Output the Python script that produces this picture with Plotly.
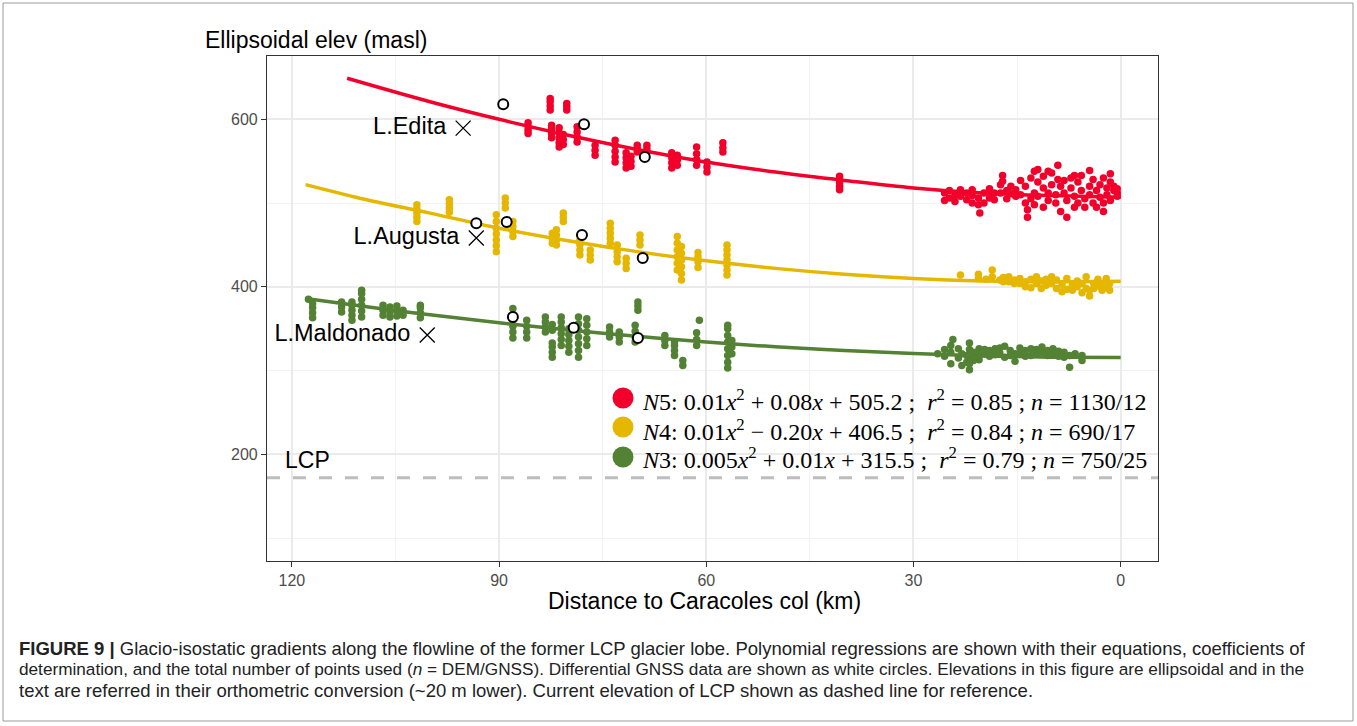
import plotly.graph_objects as go

# ---------------- data ----------------
# DEM points, grouped as vertical streaks: distance (km) -> list of elevations (masl)
N5_STREAKS = {
    85.8: [583, 587, 591, 596], 82.6: [611, 616, 621, 625], 82.4: [578, 583, 588, 593],
    81.3: [567, 572, 578, 584, 590], 80.7: [570, 576, 582], 80.2: [611, 615, 619],
    78.7: [573, 579, 585, 591], 76.1: [557, 563, 569], 73.2: [549, 555, 562, 569, 575],
    71.6: [542, 548, 554, 560], 70.9: [544, 550, 556], 70.0: [561, 565, 569],
    68.6: [561, 565, 569], 65.0: [542, 548, 554, 560], 64.2: [545, 551, 557],
    61.4: [545, 552, 559, 567], 59.9: [537, 543, 549], 57.6: [561, 566, 572],
    40.7: [516, 520, 524, 528, 532],
    25.5: [503, 512], 24.8: [506, 515], 24.0: [502, 510], 23.2: [508, 516],
    22.3: [504, 512], 21.5: [500, 509, 516], 20.6: [498, 506], 20.4: [488],
    19.8: [500, 512], 19.0: [506, 517], 18.3: [504, 512], 17.4: [512, 522],
    17.1: [526, 533], 16.5: [505, 515], 15.9: [511, 520], 15.2: [508, 516],
    14.5: [510, 527], 13.8: [500, 520], 13.5: [483, 492], 13.0: [505, 530],
    12.5: [498, 512, 538], 12.0: [508, 525, 540], 11.2: [495, 518, 532],
    10.5: [503, 512, 538], 10.0: [522, 536], 9.4: [500, 510], 9.1: [528, 545],
    8.7: [490, 520], 8.2: [512, 527], 7.8: [483, 503], 7.2: [518, 530],
    6.7: [495, 508, 533], 6.2: [500, 525], 5.7: [515, 533], 5.2: [495, 505],
    4.5: [510, 520, 539], 4.0: [500, 528], 3.5: [495, 515], 3.0: [507, 522],
    2.5: [490, 500, 530], 2.0: [510, 518], 1.5: [503, 525, 535], 1.0: [515, 520],
    0.5: [508, 512, 517],
}
N4_STREAKS = {
    101.9: [478, 483, 488, 493, 498], 97.2: [489, 494, 499, 504],
    90.4: [442, 449, 456, 463, 470, 478, 486], 89.1: [494, 500, 506],
    88.0: [460, 466, 472, 478], 82.3: [452, 458, 464], 81.7: [450, 456, 462, 468],
    80.7: [478, 483, 488], 78.3: [438, 444, 450, 456], 76.8: [432, 438, 444],
    73.9: [452, 458, 464, 470, 476], 72.9: [430, 436, 442, 450], 71.6: [422, 428, 434],
    69.6: [450, 456, 462], 64.2: [420, 428, 436, 444, 452, 460],
    63.6: [408, 416, 424, 432, 440, 448], 61.2: [423, 430, 436, 441],
    57.0: [414, 420, 426, 432, 438, 444, 450],
    23.2: [414], 20.6: [410, 415], 19.5: [409], 18.6: [412, 420], 17.5: [408],
    17.0: [406, 411], 16.2: [406, 412], 15.4: [404, 408], 14.6: [404, 410],
    13.8: [400, 406], 13.0: [399, 409], 12.2: [404, 412], 11.5: [398, 407],
    10.8: [402, 409], 10.0: [404, 412], 9.3: [398, 408], 8.5: [394, 403],
    7.8: [397, 410], 7.0: [396, 402], 6.3: [400, 407], 5.6: [393, 404],
    5.0: [398, 412], 4.5: [389, 396], 3.9: [398, 404], 3.3: [401, 409],
    2.7: [396, 404], 2.1: [399, 410], 1.6: [396, 404],
}
N3_STREAKS = {
    117.6: [385], 117.0: [363, 369, 375, 380], 112.8: [370, 376, 382],
    111.3: [360, 366, 372, 378, 382], 109.9: [364, 371, 378, 385, 392, 396],
    106.8: [366, 372, 378], 105.8: [364, 370, 376], 104.8: [365, 371, 377],
    103.9: [366, 372], 101.4: [363, 369, 375, 378],
    88.0: [339, 346, 353, 360, 367, 374], 86.0: [339, 346, 353, 360],
    83.3: [346, 352, 358, 364], 82.3: [316, 322, 328, 333, 348, 355],
    81.0: [330, 337, 344, 351, 358, 364], 79.9: [322, 329, 336, 343, 350],
    78.5: [316, 324, 332, 340, 348, 356, 364], 77.3: [330, 338, 346, 354, 362],
    74.0: [340, 346, 352], 72.6: [334, 340, 346], 70.3: [334, 340, 347, 354],
    69.9: [372, 377, 382], 66.0: [330, 336, 342], 64.6: [318, 324, 330, 334],
    63.4: [306, 312], 61.4: [330, 337, 345], 61.0: [360],
    56.9: [303, 310, 318, 326, 334, 342, 350, 354], 56.3: [320, 328, 336],
    26.5: [320], 25.5: [317, 325], 24.6: [308, 322, 330], 24.3: [337],
    23.5: [315, 326], 23.0: [306, 320], 22.3: [310, 318],
    21.9: [301, 308, 316, 325, 333], 21.3: [312, 322], 20.5: [313, 318, 326],
    19.7: [320, 325], 19.0: [317, 324], 18.2: [319, 326], 17.5: [321, 327],
    16.8: [316, 329], 16.0: [318, 324], 15.3: [311, 320], 14.6: [320, 327],
    13.8: [317, 324], 13.0: [318, 326], 12.2: [320, 325], 11.4: [322, 328],
    10.6: [318, 324], 9.8: [321, 326], 9.0: [317, 323], 8.2: [316, 322],
    7.4: [304, 318], 6.6: [320], 5.6: [312, 318],
}

# Differential GNSS points (white circles)
GNSS_KM = [89.4, 77.7, 68.9, 93.3, 88.9, 78.0, 69.2, 88.0, 79.2, 69.9]
GNSS_ELEV = [618, 594, 555, 476, 477.5, 462, 434.5, 364, 351, 339]

# Regression curves
N5_FIT_KM = [112, 100, 90, 80, 70, 60, 50, 40, 30, 20, 10, 0]
N5_FIT = [649, 621, 600, 581, 564, 549, 537, 527, 518, 512, 509, 507]
N4_FIT_KM = [118, 110, 100, 90, 80, 70, 60, 50, 40, 30, 20, 10, 0]
N4_FIT = [522, 505.5, 488, 470, 455, 442, 431, 422, 415, 410, 407, 406, 406.5]
N3_FIT_KM = [118, 110, 100, 90, 80, 70, 60, 50, 40, 30, 20, 10, 0]
N3_FIT = [386, 377, 366.5, 357, 348.5, 341, 334, 328.5, 324, 320.5, 317.5, 316, 315.5]

# Lakes
LAKE_NAMES = ["L.Edita", "L.Augusta", "L.Maldonado"]
LAKE_KM = [95.2, 93.3, 100.4]
LAKE_ELEV = [589.5, 458.3, 342.4]

LCP_ELEV = 172

LEGEND_TEXT = [
    "<i>N</i>5: 0.01<i>x</i><sup>2</sup> + 0.08<i>x</i> + 505.2 ;&nbsp; <i>r</i><sup>2</sup> = 0.85 ; <i>n</i> = 1130/12",
    "<i>N</i>4: 0.01<i>x</i><sup>2</sup> − 0.20<i>x</i> + 406.5 ;&nbsp; <i>r</i><sup>2</sup> = 0.84 ; <i>n</i> = 690/17",
    "<i>N</i>3: 0.005<i>x</i><sup>2</sup> + 0.01<i>x</i> + 315.5 ;&nbsp; <i>r</i><sup>2</sup> = 0.79 ; <i>n</i> = 750/25",
]
CAPTION = [
    "<b>FIGURE 9 |</b> Glacio-isostatic gradients along the flowline of the former LCP glacier lobe. Polynomial regressions are shown with their equations, coefficients of",
    "determination, and the total number of points used (<i>n</i> = DEM/GNSS). Differential GNSS data are shown as white circles. Elevations in this figure are ellipsoidal and in the",
    "text are referred in their orthometric conversion (~20 m lower). Current elevation of LCP shown as dashed line for reference.",
]
CAPTION_SIZES = [18.5, 17.2, 18.5]

COLORS = {"N5": "#F2002B", "N4": "#E5B700", "N3": "#538234"}


def flatten(streaks):
    km, el = [], []
    for k, vals in streaks.items():
        for v in vals:
            km.append(k)
            el.append(v)
    return km, el


# ---------------- layout geometry ----------------
W, H = 1357, 726
L, R, T, B = 267, 199, 56, 165
PW, PH = W - L - R, H - T - B


def xp(px):
    return (px - L) / PW


def yp(py):
    return (H - B - py) / PH


FONT = "Liberation Sans, Arial, sans-serif"

fig = go.Figure()

for key, streaks in (("N5", N5_STREAKS), ("N4", N4_STREAKS), ("N3", N3_STREAKS)):
    km, el = flatten(streaks)
    fig.add_trace(go.Scatter(x=km, y=el, mode="markers", name=key,
                             marker=dict(color=COLORS[key], size=7.5, line=dict(width=0)),
                             showlegend=False))

for key, xs, ys in (("N5", N5_FIT_KM, N5_FIT), ("N4", N4_FIT_KM, N4_FIT), ("N3", N3_FIT_KM, N3_FIT)):
    fig.add_trace(go.Scatter(x=xs, y=ys, mode="lines", line=dict(color=COLORS[key], width=3.5, shape="spline"),
                             showlegend=False))

fig.add_trace(go.Scatter(x=GNSS_KM, y=GNSS_ELEV, mode="markers", showlegend=False,
                         marker=dict(color="white", size=10, line=dict(color="black", width=2))))

fig.add_trace(go.Scatter(x=LAKE_KM, y=LAKE_ELEV, mode="markers+text",
                         text=[n + "&nbsp;" for n in LAKE_NAMES],
                         textposition="middle left", showlegend=False,
                         textfont=dict(family=FONT, size=23.5, color="black"),
                         marker=dict(symbol="x-thin", size=15, color="black",
                                     line=dict(color="black", width=1.3))))

shapes = [
    dict(type="line", xref="paper", x0=0, x1=1, yref="y", y0=LCP_ELEV, y1=LCP_ELEV,
         line=dict(color="#BDBDBD", width=3, dash="13px,13px"), layer="below"),
    dict(type="rect", xref="paper", yref="paper", x0=xp(3), x1=xp(1353), y0=yp(721), y1=yp(3),
         line=dict(color="#9A9A9A", width=1)),
]
legend_dot_y = [398, 427, 457]
for key, cy in zip(("N5", "N4", "N3"), legend_dot_y):
    shapes.append(dict(type="circle", xref="paper", yref="paper",
                       x0=xp(612.5), x1=xp(633.5), y0=yp(cy + 10.5), y1=yp(cy - 10.5),
                       fillcolor=COLORS[key], line=dict(width=0)))

annotations = [
    dict(text="Ellipsoidal elev (masl)", x=xp(203), y=yp(40), xref="paper", yref="paper",
         xanchor="left", yanchor="middle", showarrow=False, font=dict(family=FONT, size=23, color="black")),
    dict(text="Distance to Caracoles col (km)", x=xp(704), y=yp(601), xref="paper", yref="paper",
         xanchor="center", yanchor="middle", showarrow=False, font=dict(family=FONT, size=23, color="black")),
    dict(text="LCP", x=xp(283), y=yp(460), xref="paper", yref="paper",
         xanchor="left", yanchor="middle", showarrow=False, font=dict(family=FONT, size=23, color="black")),
]
for txt, cy in zip(LEGEND_TEXT, [400, 430, 458]):
    annotations.append(dict(text=txt, x=xp(640), y=yp(cy), xref="paper", yref="paper",
                            xanchor="left", yanchor="middle", showarrow=False,
                            font=dict(family="Liberation Serif, Times New Roman, serif", size=24, color="black")))
for txt, cy, fs in zip(CAPTION, [648, 669, 690], CAPTION_SIZES):
    annotations.append(dict(text=txt, x=xp(17), y=yp(cy), xref="paper", yref="paper",
                            xanchor="left", yanchor="middle", showarrow=False,
                            font=dict(family=FONT, size=fs, color="#222222")))

fig.update_layout(
    width=W, height=H, margin=dict(l=L, r=R, t=T, b=B),
    paper_bgcolor="white", plot_bgcolor="white",
    shapes=shapes, annotations=annotations, showlegend=False,
    font=dict(family=FONT),
)
fig.update_xaxes(range=[123.6, -5.4], tickvals=[120, 90, 60, 30, 0], ticktext=["120", "90", "60", "30", "0"],
                 showgrid=True, gridcolor="#EBEBEB", gridwidth=1.5,
                 minor=dict(tickvals=[105, 75, 45, 15], showgrid=True, gridcolor="#F2F2F2", gridwidth=1),
                 ticks="outside", ticklen=5, tickcolor="#333333", tickwidth=1.2,
                 tickfont=dict(family=FONT, size=16, color="#4D4D4D"),
                 showline=True, linecolor="#333333", linewidth=1.2, mirror=True, zeroline=False)
fig.update_yaxes(range=[72.6, 675.6], tickvals=[200, 400, 600], ticktext=["200", "400", "600"],
                 showgrid=True, gridcolor="#EBEBEB", gridwidth=1.5,
                 minor=dict(tickvals=[100, 300, 500], showgrid=True, gridcolor="#F2F2F2", gridwidth=1),
                 ticks="outside", ticklen=5, tickcolor="#333333", tickwidth=1.2,
                 tickfont=dict(family=FONT, size=16, color="#4D4D4D"),
                 showline=True, linecolor="#333333", linewidth=1.2, mirror=True, zeroline=False)

fig.write_html("out.html", config={"displayModeBar": False},
               post_script="document.body.style.margin='0';document.body.style.overflow='hidden';")
